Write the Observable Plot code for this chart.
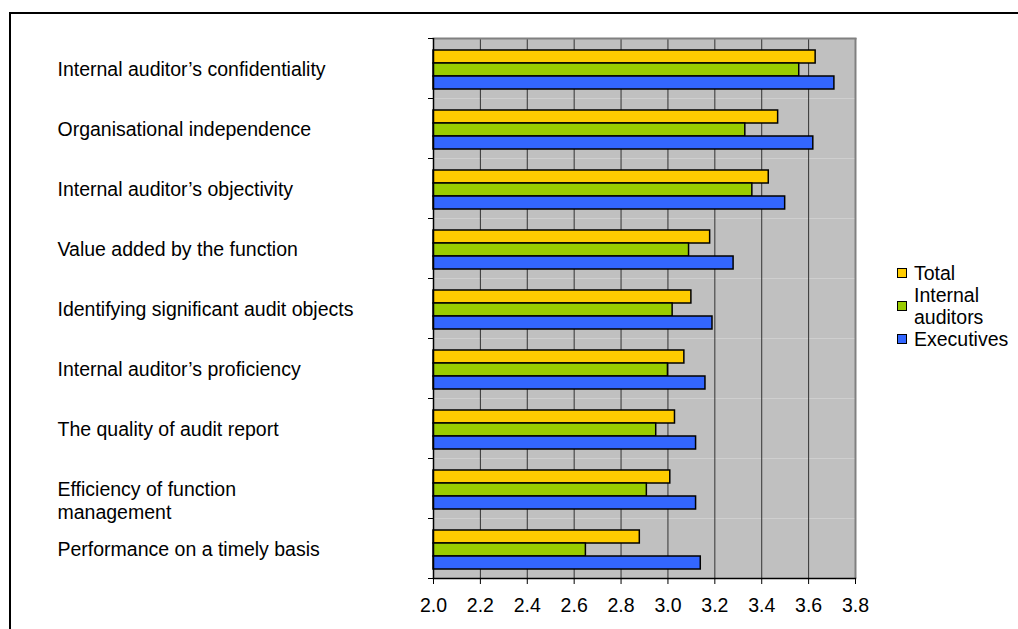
<!DOCTYPE html>
<html>
<head>
<meta charset="utf-8">
<script src="https://cdn.jsdelivr.net/npm/d3@7"></script>
<script src="https://cdn.jsdelivr.net/npm/@observablehq/plot@0.6"></script>
<style>
  html, body { margin: 0; padding: 0; background: #fff; }
  #wrap { position: relative; width: 1018px; height: 629px; overflow: hidden; font-family: "Liberation Sans", Arial, sans-serif; }
  #border { position: absolute; left: 9px; top: 12px; right: -10px; bottom: -10px; border-left: 2px solid #000; border-top: 2px solid #000; }
  #chart { position: absolute; left: 0; top: 0; }
  #legend { position: absolute; left: 897px; top: 262px; width: 121px; font-size: 19.5px; color: #000; }
  .item { display: flex; align-items: center; line-height: 22px; }
  .sw { width: 8px; height: 8px; border: 1.5px solid #000; margin-right: 7px; flex: none; }
  .lab { width: 100px; }
</style>
</head>
<body>
<div id="wrap">
  <div id="border"></div>
  <div id="chart"></div>
  <div id="legend"></div>
</div>
<script>
const categories = [
  "Internal auditor’s confidentiality",
  "Organisational independence",
  "Internal auditor’s objectivity",
  "Value added by the function",
  "Identifying significant audit objects",
  "Internal auditor’s proficiency",
  "The quality of audit report",
  "Efficiency of function\nmanagement",
  "Performance on a timely basis"
];
const series = ["Total", "Internal auditors", "Executives"];
const colors = ["#FFCC00", "#99CC00", "#3366FF"];
const total     = [3.63, 3.47, 3.43, 3.18, 3.10, 3.07, 3.03, 3.01, 2.88];
const internal  = [3.56, 3.33, 3.36, 3.09, 3.02, 3.00, 2.95, 2.91, 2.65];
const executives= [3.71, 3.62, 3.50, 3.28, 3.19, 3.16, 3.12, 3.12, 3.14];
const xTicks = [2.0, 2.2, 2.4, 2.6, 2.8, 3.0, 3.2, 3.4, 3.6, 3.8];

const valuesBySeries = [total, internal, executives];
const rows = [];
categories.forEach((c, i) => series.forEach((s, j) => rows.push({category: c, series: s, value: valuesBySeries[j][i]})));

const W = 1018, H = 629, ML = 433, MR = 163, MT = 38, MB = 51;
const band = (H - MT - MB) / categories.length;
const xMin = xTicks[0], xMax = xTicks[xTicks.length - 1];
const FONT = 19.5;

const chart = Plot.plot({
  width: W, height: H,
  marginLeft: ML, marginRight: MR, marginTop: MT, marginBottom: MB,
  style: {fontFamily: "'Liberation Sans', Arial, sans-serif", fontSize: FONT + "px", color: "#000", background: "transparent"},
  x: {domain: [xMin, xMax], axis: null},
  fy: {domain: categories, padding: 0, axis: null},
  y: {domain: series, paddingInner: 0, paddingOuter: 0.71, align: 0.58, axis: null},
  color: {domain: series, range: colors},
  marks: [
    Plot.frame({fill: "#C0C0C0"}),
    Plot.ruleX(xTicks.slice(1, -1), {stroke: "#333", strokeWidth: 1}),
    Plot.ruleX([xMax], {stroke: "#808080", strokeWidth: 2}),
    Plot.frame({facet: "super", anchor: "top", stroke: "#808080", strokeWidth: 2}),
    Plot.barX(rows, {fy: "category", y: "series", x1: xMin, x2: "value", fill: "series", stroke: "#000", strokeWidth: 1.5}),
    Plot.ruleX([xMin], {stroke: "#000", strokeWidth: 1.5}),
    Plot.frame({facet: "super", anchor: "bottom", stroke: "#000", strokeWidth: 1.5}),
    Plot.axisFy({anchor: "left", label: null, tickSize: 5, tickFormat: () => "", dy: -band / 2, stroke: "#000"}),
    Plot.axisFy({anchor: "left", label: null, ticks: categories.slice(-1), tickSize: 5, tickFormat: () => "", dy: band / 2, stroke: "#000"}),
    Plot.axisX({label: null, ticks: xTicks, tickFormat: d3.format(".1f"), tickSize: 6, tickPadding: 14, fontSize: FONT, stroke: "#000", fill: "#000"}),
    Plot.text(categories.filter(c => !c.includes("\n")), {fy: d => d, text: d => d, frameAnchor: "left", textAnchor: "start", dx: 57 - ML, dy: 1, fontSize: FONT, fill: "#000"}),
    Plot.text(categories.filter(c => c.includes("\n")), {fy: d => d, text: d => d, frameAnchor: "left", textAnchor: "start", lineAnchor: "top", lineHeight: 1.18, dx: 57 - ML, dy: -9, fontSize: FONT, fill: "#000"})
  ]
});
document.getElementById("chart").appendChild(chart);

const legend = document.getElementById("legend");
series.forEach((s, j) => {
  const item = document.createElement("div");
  item.className = "item";
  const sw = document.createElement("div");
  sw.className = "sw";
  sw.style.background = colors[j];
  const lab = document.createElement("div");
  lab.className = "lab";
  lab.textContent = s;
  item.appendChild(sw);
  item.appendChild(lab);
  legend.appendChild(item);
});
</script>
</body>
</html>
